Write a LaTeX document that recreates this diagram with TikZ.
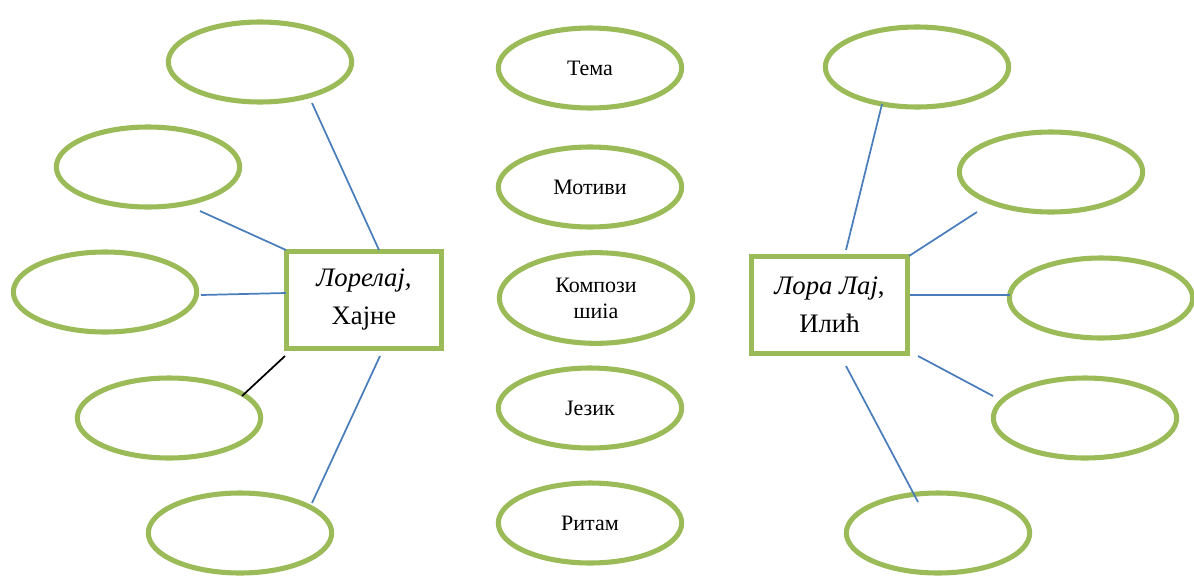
\documentclass[tikz,border=0pt]{standalone}
\usepackage{fontspec}
\setmainfont{Liberation Serif}
\usetikzlibrary{shapes.geometric}
\definecolor{gr}{HTML}{9BBB59}
\definecolor{bl}{HTML}{4A7EBB}
\begin{document}
\begin{tikzpicture}[x=0.75pt,y=-0.75pt,
  oval/.style={ellipse,draw=gr,line width=3.8pt,minimum width=137.5pt,minimum height=60pt,inner sep=0pt,font=\fontsize{16.5}{19.5}\selectfont,align=center},
  author/.style={rectangle,draw=gr,line width=3.8pt,minimum width=116.5pt,minimum height=72.5pt,inner sep=0pt,font=\fontsize{20}{28.5}\selectfont,align=center},
  link/.style={draw=bl,line width=1.3pt},
  blink/.style={draw=black,line width=1.3pt}]
\useasboundingbox (0,0) rectangle (1194,578);
% left ovals
\node[oval] (la) at (260,62) {};
\node[oval] (lb) at (148,167) {};
\node[oval] (lc) at (105,292) {};
\node[oval] (ld) at (169,418) {};
\node[oval] (le) at (240,533) {};
% centre ovals
\node[oval] (c1) at (590,68) {Тема};
\node[oval] (c2) at (590,187) {Мотиви};
\node[oval,minimum width=145pt,minimum height=68pt] (c3) at (596,298) {Компози\\шиіа};
\node[oval] (c4) at (590,408) {Језик};
\node[oval] (c5) at (590,523) {Ритам};
% right ovals
\node[oval] (ra) at (917,67) {};
\node[oval] (rb) at (1051,172) {};
\node[oval] (rc) at (1101,298) {};
\node[oval] (rd) at (1085,418) {};
\node[oval] (re) at (938,533) {};
% boxes
\node[author] (L) at (364,300) {\textit{Лорелај,}\\Хајне};
\node[author] (R) at (829.5,305) {\textit{Лора Лај}, \\Илић};
% free ends
\coordinate (p1) at (312,103);  \coordinate (q1) at (379,250);
\coordinate (p2) at (200,211);  \coordinate (q2) at (286,250);
\coordinate (p3) at (201,295);  \coordinate (q3) at (286,293);
\coordinate (p4) at (242,396);  \coordinate (q4) at (285,356);
\coordinate (p5) at (312,503);  \coordinate (q5) at (380,356);
\coordinate (r1) at (882,104);  \coordinate (s1) at (846,250);
\coordinate (r2) at (977,212);  \coordinate (s2) at (909,256);
\coordinate (r3) at (1010,295); \coordinate (s3) at (910,295);
\coordinate (r4) at (993,396);  \coordinate (s4) at (918,356);
\coordinate (r5) at (918,502);  \coordinate (s5) at (846,366);
\draw[link] (p1) -- (q1);
\draw[link] (p2) -- (q2);
\draw[link] (p3) -- (q3);
\draw[blink] (p4) -- (q4);
\draw[link] (p5) -- (q5);
\draw[link] (r1) -- (s1);
\draw[link] (r2) -- (s2);
\draw[link] (r3) -- (s3);
\draw[link] (r4) -- (s4);
\draw[link] (r5) -- (s5);
\end{tikzpicture}
\end{document}
